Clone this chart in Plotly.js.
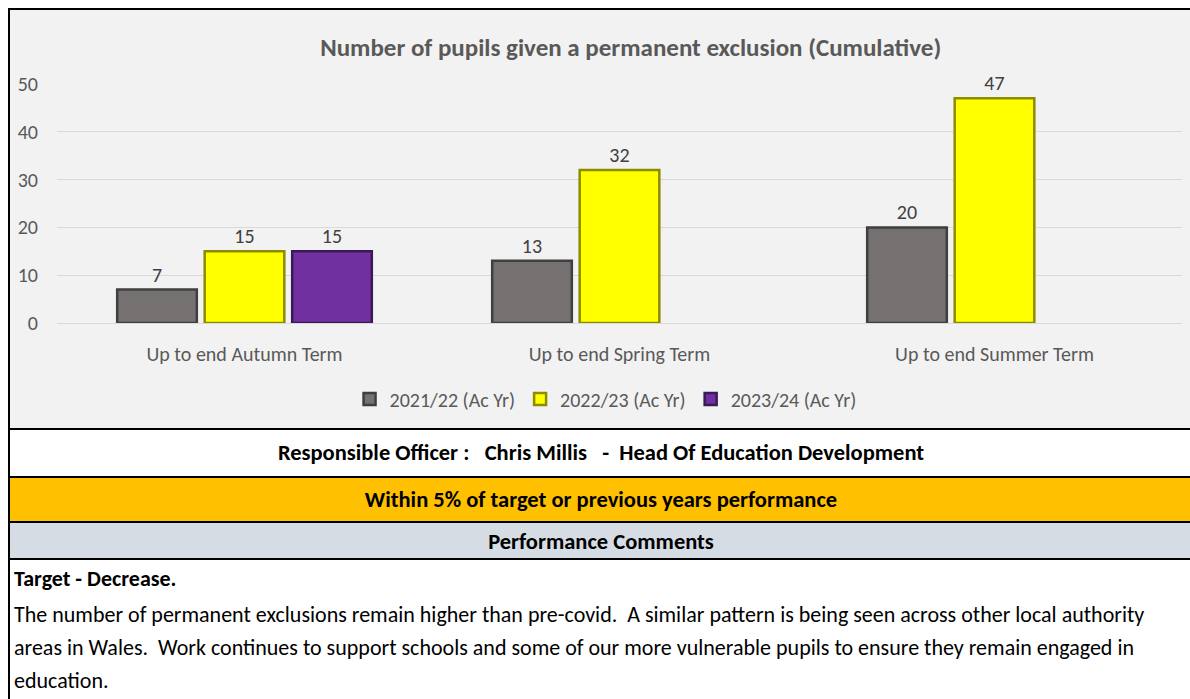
<!DOCTYPE html>
<html>
<head>
<meta charset="utf-8">
<script src="https://cdn.plot.ly/plotly-3.0.1.min.js"></script>
<style>
  body { margin: 0; background: #ffffff; font-family: Carlito, Lato, sans-serif; }
  #frame { position: absolute; left: 8px; top: 8px; width: 1182px; height: 691px;
           border-left: 2px solid #000; border-top: 2px solid #000; overflow: hidden; }
  #chart { width: 1180px; height: 418px; }
  .row { border-top: 2px solid #000; text-align: center; font-weight: bold; color: #000;
         font-size: 22.5px; white-space: pre; }
  #officer { height: 46px; line-height: 46px; background: #fff; }
  #status { height: 43px; line-height: 43px; background: #ffc000; }
  #comments { height: 35px; line-height: 37px; background: #d6dce4; border-bottom: 2px solid #000; }
  #notes { padding: 2px 0 0 4px; font-size: 22px; color: #000; line-height: 33px; white-space: pre; }
  #notes p { margin: 3px 0 0 0; }
</style>
</head>
<body>
<div id="frame">
  <div id="chart"></div>
  <div class="row" id="officer">Responsible Officer :   Chris Millis   -  Head Of Education Development</div>
  <div class="row" id="status">Within 5% of target or previous years performance</div>
  <div class="row" id="comments">Performance Comments</div>
  <div id="notes"><b>Target - Decrease.</b><p>The number of permanent exclusions remain higher than pre-covid.  A similar pattern is being seen across other local authority<br>areas in Wales.  Work continues to support schools and some of our more vulnerable pupils to ensure they remain engaged in<br>education.</p></div>
</div>
<script>
const terms = ["Up to end Autumn Term", "Up to end Spring Term", "Up to end Summer Term"];
const year2122 = [7, 13, 20];
const year2223 = [15, 32, 47];
const year2324 = [15, null, null];
const yearNames = ["2021/22 (Ac Yr)", "2022/23 (Ac Yr)", "2023/24 (Ac Yr)"];

const fontFam = "Carlito, Lato, sans-serif";

function barTrace(vals, name, fill, edge) {
    return {
        x: terms,
        y: vals,
        name: name,
        type: "bar",
        marker: { color: fill, line: { color: edge, width: 2.5 } },
        text: vals.map(v => v === null ? "" : String(v)),
        textposition: "outside",
        textfont: { size: 20, color: "#404040", family: fontFam },
        cliponaxis: false
    };
}

var data = [
    barTrace(year2122, yearNames[0], "#767171", "#3f3f3f"),
    barTrace(year2223, yearNames[1], "#ffff00", "#8c8c00"),
    barTrace(year2324, yearNames[2], "#7030a0", "#3b1858")
];

var layout = {
    width: 1180,
    height: 418,
    margin: { l: 47, r: 8, t: 74, b: 105 },
    paper_bgcolor: "#f2f2f2",
    plot_bgcolor: "#f2f2f2",
    font: { family: fontFam, color: "#595959", size: 20 },
    title: {
        text: "<b>Number of pupils given a permanent exclusion (Cumulative)</b>",
        font: { size: 25, color: "#595959", family: fontFam },
        x: 0.526, xanchor: "center", y: 0.91, yanchor: "middle"
    },
    barmode: "group",
    bargap: 0.3,
    bargroupgap: 0.09,
    xaxis: {
        showgrid: false,
        showline: false,
        ticks: "outside", ticklen: 13, tickcolor: "rgba(0,0,0,0)",
        tickfont: { size: 20, color: "#595959" }
    },
    yaxis: {
        range: [0, 50],
        dtick: 10,
        showgrid: true, gridcolor: "#d9d9d9", gridwidth: 1,
        zeroline: true, zerolinecolor: "#d9d9d9", zerolinewidth: 1,
        ticks: "outside", ticklen: 14, tickcolor: "rgba(0,0,0,0)",
        tickfont: { size: 20, color: "#595959" }
    },
    showlegend: true,
    legend: {
        orientation: "h",
        x: 0.4876, xanchor: "center",
        y: -0.318, yanchor: "middle",
        itemwidth: 30,
        font: { size: 20, color: "#595959" },
        bgcolor: "rgba(0,0,0,0)"
    }
};

Plotly.newPlot("chart", data, layout, { displayModeBar: false, staticPlot: true });
</script>
</body>
</html>
